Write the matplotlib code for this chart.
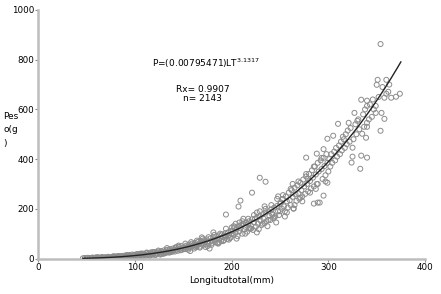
import numpy as np
import matplotlib
matplotlib.use("Agg")
import matplotlib.pyplot as plt

# length (mm) / weight (g) pairs, grouped by length band
len_a = [46, 48, 50, 51, 53, 55, 56, 58, 59, 61, 62, 64, 65, 66, 68, 69, 70, 72, 73, 74, 76,
         77, 78, 79, 81, 82, 83, 84, 86, 87, 88, 89, 90, 92, 93, 94, 95, 96, 98, 99, 100,
         60, 63, 67, 71, 75, 78, 80, 83, 85, 88, 91, 93, 96, 97, 99, 102, 103]
wt_a = [1, 2, 1, 3, 2, 2, 4, 2, 3, 3, 5, 3, 4, 6, 3, 5, 4, 7, 5, 3, 6,
        8, 5, 7, 9, 6, 4, 8, 10, 7, 11, 6, 9, 12, 8, 14, 10, 7, 13, 11, 15,
        5, 1, 2, 2, 2, 9, 3, 10, 5, 4, 14, 5, 6, 16, 8, 18, 9]

len_b = [101, 102, 104, 105, 106, 107, 108, 109, 110, 111, 112, 113, 114, 115, 116, 117,
         118, 119, 120, 121, 122, 123, 124, 125, 126, 127, 128, 129, 130, 131, 132, 133,
         134, 135, 136, 137, 138, 139, 140, 141, 142, 143, 144, 145, 146, 147, 148, 149, 150,
         103, 106, 109, 112, 115, 118, 121, 124, 127, 130, 133, 136, 139, 142, 145, 148]
wt_b = [10, 16, 12, 18, 14, 9, 20, 15, 17, 12, 22, 16, 19, 13, 24, 18,
        15, 21, 26, 17, 23, 19, 28, 22, 16, 30, 25, 20, 33, 27, 23, 35,
        29, 24, 38, 31, 27, 40, 34, 28, 44, 36, 31, 47, 39, 33, 50, 42, 37,
        6, 20, 8, 24, 11, 26, 14, 32, 18, 20, 42, 25, 30, 45, 52, 35]

len_c = [151, 152, 153, 154, 155, 156, 157, 158, 159, 160, 161, 162, 163, 164, 165, 166,
         167, 168, 169, 170, 171, 172, 173, 174, 175, 176, 177, 178, 179, 180, 181, 182,
         183, 184, 185, 186, 187, 188, 189, 190, 191, 192, 193, 194, 195, 196, 197, 198, 199, 200,
         152, 155, 158, 161, 164, 167, 170, 173, 176, 179, 182, 185, 188, 191, 194, 197, 200,
         157, 163, 169, 175, 181, 187, 193, 199]
wt_c = [44, 38, 52, 47, 41, 56, 49, 45, 60, 53, 48, 63, 55, 50, 67, 58,
        44, 70, 61, 54, 73, 65, 57, 77, 68, 60, 40, 81, 71, 63, 85, 75,
        66, 89, 78, 60, 93, 82, 71, 97, 86, 74, 101, 90, 78, 105, 94, 82, 110, 99,
        60, 35, 66, 40, 72, 48, 80, 46, 86, 55, 95, 62, 100, 70, 120, 76, 125,
        30, 45, 85, 50, 105, 65, 92, 85]

len_d = [201, 202, 203, 204, 205, 206, 207, 208, 209, 210, 211, 212, 213, 214, 215, 216,
         217, 218, 219, 220, 221, 222, 223, 224, 225, 226, 227, 228, 229, 230, 231, 232,
         233, 234, 235, 236, 237, 238, 239, 240, 241, 242, 243, 244, 245, 246, 247, 248, 249, 250,
         202, 205, 208, 211, 214, 217, 220, 223, 226, 229, 232, 235, 238, 241, 244, 247, 250,
         204, 212, 218, 226, 234, 242, 248,
         194, 207, 209, 221, 229, 235]
wt_d = [112, 96, 125, 104, 118, 90, 130, 110, 122, 135, 100, 140, 117, 128, 145, 108,
        138, 150, 122, 132, 158, 115, 145, 160, 128, 165, 140, 118, 170, 152, 135, 178,
        160, 142, 185, 150, 130, 190, 172, 155, 198, 180, 162, 205, 170, 145, 212, 190, 175, 220,
        130, 80, 145, 150, 100, 160, 120, 175, 105, 190, 140, 200, 155, 215, 165, 240, 190,
        140, 160, 120, 185, 210, 175, 250,
        177, 209, 233, 265, 325, 309]

len_e = [251, 252, 253, 254, 255, 256, 257, 258, 259, 260, 261, 262, 263, 264, 265, 266,
         267, 268, 269, 270, 271, 272, 273, 274, 275, 276, 277, 278, 279, 280, 281, 282,
         283, 284, 285, 286, 287, 288, 289, 290, 291, 292, 293, 294, 295, 296, 297, 298, 299, 300,
         253, 257, 261, 265, 269, 273, 277, 281, 285, 289, 293, 297, 255, 263, 271, 279,
         287, 295, 277, 288, 299, 285, 289, 295, 299, 264]
wt_e = [225, 200, 240, 210, 169, 250, 230, 205, 265, 235, 215, 275, 248, 201, 285, 258,
        232, 295, 262, 240, 305, 275, 250, 318, 290, 260, 330, 300, 270, 340, 312, 282,
        355, 325, 290, 370, 338, 300, 385, 350, 225, 395, 360, 320, 405, 372, 335, 420, 385, 350,
        255, 185, 280, 215, 310, 230, 340, 265, 370, 300, 405, 310, 190, 300, 245, 320,
        280, 440, 406, 422, 482, 221, 225, 253, 305, 201]

len_f = [305, 310, 315, 321, 324, 325, 325, 327, 330, 333, 334, 334, 335, 339, 340, 340,
         340, 340, 340, 349, 349, 350, 351, 354, 354, 355, 358, 358, 360, 360, 362, 365, 370, 374,
         301, 302, 303, 304, 306, 307, 308, 309, 311, 312, 313, 314, 316, 317, 318, 319,
         320, 322, 323, 326, 328, 329, 331, 332, 336, 337, 338, 342, 343, 345, 346, 347,
         352, 356, 363]
wt_f = [494, 542, 490, 546, 386, 446, 410, 586, 554, 361, 414, 639, 502, 486, 406, 635,
        614, 546, 530, 614, 586, 699, 719, 514, 863, 586, 562, 647, 719, 663, 671, 647, 651, 663,
        400, 370, 420, 385, 430, 395, 445, 410, 455, 420, 470, 435, 480, 445, 500, 460,
        515, 470, 525, 480, 540, 500, 560, 520, 580, 530, 600, 560, 620, 570, 640, 600,
        650, 690, 700]

# fitted power curve P = a * L^b (L in cm)
coef_a = 0.00795471
coef_b = 3.175
curve_from, curve_to = 46, 375

length = np.array(len_a + len_b + len_c + len_d + len_e + len_f)
weight = np.array(wt_a + wt_b + wt_c + wt_d + wt_e + wt_f)

fig = plt.figure(figsize=(4.41, 2.94), dpi=100)
ax = fig.add_axes([0.0873, 0.1207, 0.8764, 0.8453])

ax.scatter(length, weight, s=13, facecolors="none", edgecolors="#8c8c8c",
           linewidths=0.7, zorder=2)
xs = np.linspace(curve_from, curve_to, 200)
ax.plot(xs, coef_a * (xs / 10) ** coef_b, color="#222222", lw=1.0, zorder=3)

ax.set_xlim(0, 400)
ax.set_ylim(0, 1000)
ax.set_xticks([0, 100, 200, 300, 400])
ax.set_yticks([0, 200, 400, 600, 800, 1000])

for side in ["top", "right"]:
    ax.spines[side].set_visible(False)
for side in ["left", "bottom"]:
    ax.spines[side].set_color("#bdbdbd")
    ax.spines[side].set_linewidth(1.8)
ax.tick_params(length=2, width=0.8, color="#8c8c8c", labelsize=6.3, pad=1,
               labelcolor="black")

ax.set_xlabel("Longitudtotal(mm)", fontsize=6.5, labelpad=3)
fig.text(0.007, 0.558, "Pes\no(g\n)", fontsize=6.5, ha="left", va="center",
         linespacing=1.6)

ax.text(0.433, 0.787, r"P=(0.00795471)LT$^{3.1317}$", transform=ax.transAxes,
        fontsize=6.5, ha="center", va="center")
ax.text(0.426, 0.682, "Rx= 0.9907", transform=ax.transAxes, fontsize=6.5,
        ha="center", va="center")
ax.text(0.424, 0.642, "n= 2143", transform=ax.transAxes, fontsize=6.5,
        ha="center", va="center")

fig.savefig("out.png", dpi=100)
